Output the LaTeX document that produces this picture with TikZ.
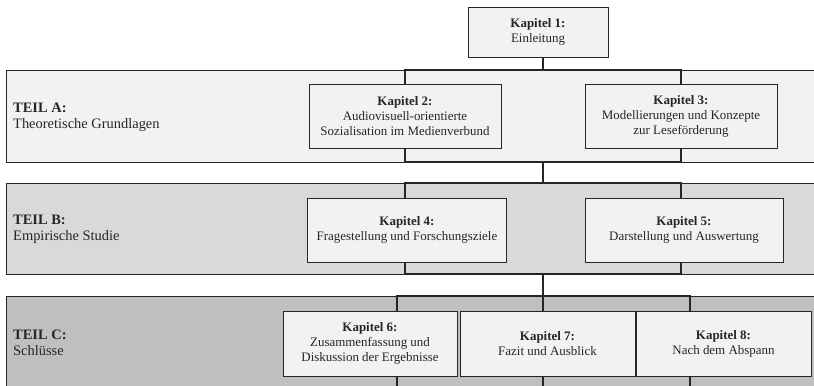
\documentclass[tikz,border=0pt]{standalone}
\usepackage{fontspec}
\setmainfont{Liberation Serif}
\usetikzlibrary{positioning}
\definecolor{teilA}{HTML}{F2F2F2}
\definecolor{teilB}{HTML}{D9D9D9}
\definecolor{teilC}{HTML}{BFBFBF}
\definecolor{rand}{HTML}{262626}

\begin{document}
\begin{tikzpicture}[x=1bp, y=-1bp,
    band/.style={rectangle, draw=rand, line width=0.8bp, anchor=north west, minimum width=840bp, inner sep=0pt, outer sep=0pt},
    box/.style={rectangle, draw=rand, line width=1bp, fill=teilA, minimum height=64bp, align=center, inner sep=2bp, outer sep=0pt, text=black!85, font=\fontsize{13}{15}\selectfont},
    teil/.style={anchor=west, align=left, inner sep=0pt, text=black!85, font=\fontsize{14.5}{16}\selectfont},
    conn/.style={draw=rand, line width=1.3bp},
]
\clip (0,0) rectangle (814,385);

% Three parts as grey bands
\node[band, fill=teilA, minimum height=92bp] (bandA) at (6,70) {};
\node[band, fill=teilB, minimum height=91bp] (bandB) at (6,183) {};
\node[band, fill=teilC, minimum height=110bp] (bandC) at (6,296) {};

\node[teil] (labA) at (13,117) {\textbf{TEIL A:}\\Theoretische Grundlagen};
\node[teil] (labB) at (13,229) {\textbf{TEIL B:}\\Empirische Studie};
\node[teil] (labC) at (13,343) {\textbf{TEIL C:}\\Schlüsse};

% Chapters
\node[box, minimum width=140bp, minimum height=50bp] (kap1) at (538,32) {\textbf{Kapitel 1:}\\Einleitung};
\node[box, minimum width=192bp] (kap2) at (405,116) {\textbf{Kapitel 2:}\\Audiovisuell-orientierte\\Sozialisation im Medienverbund};
\node[box, minimum width=192bp] (kap3) at (681,116) {\textbf{Kapitel 3:}\\Modellierungen und Konzepte\\zur Leseförderung};
\node[box, minimum width=199bp] (kap4) at (407,230) {\textbf{Kapitel 4:}\\Fragestellung und Forschungsziele};
\node[box, minimum width=198bp] (kap5) at (684,230) {\textbf{Kapitel 5:}\\Darstellung und Auswertung};
\node[box, minimum width=174bp, minimum height=65bp] (kap6) at (370,343.5) {\textbf{Kapitel 6:}\\Zusammenfassung und\\Diskussion der Ergebnisse};
\node[box, minimum width=175bp, minimum height=65bp] (kap7) at (547.5,343.5) {\textbf{Kapitel 7:}\\Fazit und Ausblick};
\node[box, minimum width=175bp, minimum height=65bp] (kap8) at (723.5,343.5) {\textbf{Kapitel 8:}\\Nach dem Abspann};

% Connector columns
\coordinate (mitte) at (543,0);
\coordinate (links) at (405,0);
\coordinate (rechts) at (681,0);
\coordinate (c6) at (397,0);
\coordinate (c8) at (690,0);

\draw[conn] (kap1.south -| mitte) -- (bandA.north -| mitte);
\draw[conn] (kap2.north -| links) -- (bandA.north -| links) -- (bandA.north -| rechts) -- (kap3.north -| rechts);
\draw[conn] (kap2.south -| links) -- (bandA.south -| links) -- (bandA.south -| rechts) -- (kap3.south -| rechts);
\draw[conn] (bandA.south -| mitte) -- (bandB.north -| mitte);
\draw[conn] (kap4.north -| links) -- (bandB.north -| links) -- (bandB.north -| rechts) -- (kap5.north -| rechts);
\draw[conn] (kap4.south -| links) -- (bandB.south -| links) -- (bandB.south -| rechts) -- (kap5.south -| rechts);
\draw[conn] (bandB.south -| mitte) -- (bandC.north -| mitte);
\draw[conn] (kap6.north -| c6) -- (bandC.north -| c6) -- (bandC.north -| c8) -- (kap8.north -| c8);
\draw[conn] (bandC.north -| mitte) -- (kap7.north -| mitte);
\draw[conn] (kap6.south -| c6) -- (bandC.south -| c6);
\draw[conn] (kap7.south -| mitte) -- (bandC.south -| mitte);
\draw[conn] (kap8.south -| c8) -- (bandC.south -| c8);

\end{tikzpicture}
\end{document}
